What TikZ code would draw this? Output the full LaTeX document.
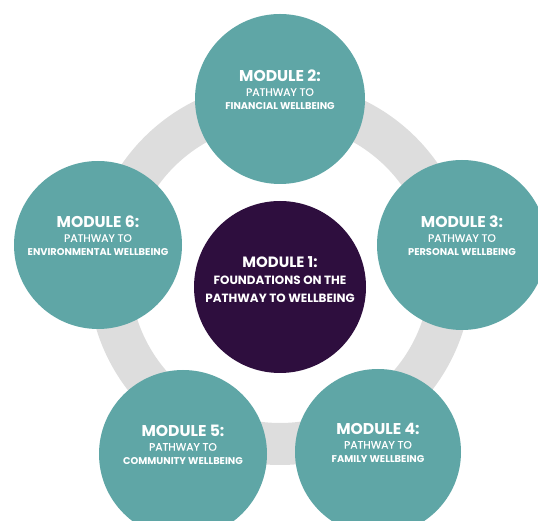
\documentclass[tikz,border=0pt]{standalone}
\usepackage{fontspec}
\setsansfont{Poppins}
\newfontfamily\pathfont{Poppins}[FakeBold=0.6]
\usetikzlibrary{positioning}
\definecolor{moduleteal}{RGB}{95,166,166}
\definecolor{hubpurple}{RGB}{46,14,62}
\definecolor{ringgray}{RGB}{221,221,221}
\newcommand{\modhead}[1]{{\fontsize{8.9}{8}\selectfont\bfseries #1}}
\newcommand{\modpath}[1]{{\pathfont\fontsize{6.1}{8}\selectfont #1}}
\newcommand{\modname}[1]{{\fontsize{5.6}{8}\selectfont\bfseries #1}}

\begin{document}
\begin{tikzpicture}[
  modcircle/.style={circle, fill=moduleteal, inner sep=0pt},
  modtext/.style={text=white, align=center, inner sep=0pt,
                  font=\sffamily\fontsize{6}{8}\selectfont},
]
\useasboundingbox (0,0) rectangle (10.76,10.42);
\clip (0,0) rectangle (10.76,10.42);
% grey ring behind the modules
\draw[ringgray, line width=0.84cm] (5.60,4.96) circle (3.42);
% outer modules
\foreach \name/\x/\y/\d in {m2/5.60/8.44/3.40, m3/9.24/5.52/3.40, m4/7.56/1.38/3.32,
                           m5/3.66/1.34/3.36, m6/1.96/5.52/3.36}
  \node[modcircle, minimum size=\d cm] (\name) at (\x,\y) {};
% centre module
\node[circle, fill=hubpurple, inner sep=0pt, minimum size=3.44cm] (hub) at (5.60,4.68) {};

\node[modtext, font=\sffamily\bfseries\fontsize{6.8}{9.8}\selectfont] (hubtext)
  at ([yshift=0.15cm]hub.center)
  {{\fontsize{8.5}{9.8}\selectfont MODULE 1:}\\
   FOUNDATIONS ON THE\\
   PATHWAY TO WELLBEING};
\node[modtext] (m2text) at ([yshift=0.18cm]m2.center)
  {\modhead{MODULE 2:}\\ \modpath{PATHWAY TO}\\ \modname{FINANCIAL WELLBEING}};
\node[modtext] (m3text) at ([yshift=0.18cm]m3.center)
  {\modhead{MODULE 3:}\\ \modpath{PATHWAY TO}\\ \modname{PERSONAL WELLBEING}};
\node[modtext] (m4text) at ([yshift=0.18cm]m4.center)
  {\modhead{MODULE 4:}\\ \modpath{PATHWAY TO}\\ \modname{FAMILY WELLBEING}};
\node[modtext] (m5text) at ([yshift=0.18cm]m5.center)
  {\modhead{MODULE 5:}\\ \modpath{PATHWAY TO}\\ \modname{COMMUNITY WELLBEING}};
\node[modtext] (m6text) at ([yshift=0.18cm]m6.center)
  {\modhead{MODULE 6:}\\ \modpath{PATHWAY TO}\\ \modname{ENVIRONMENTAL WELLBEING}};
\end{tikzpicture}
\end{document}
